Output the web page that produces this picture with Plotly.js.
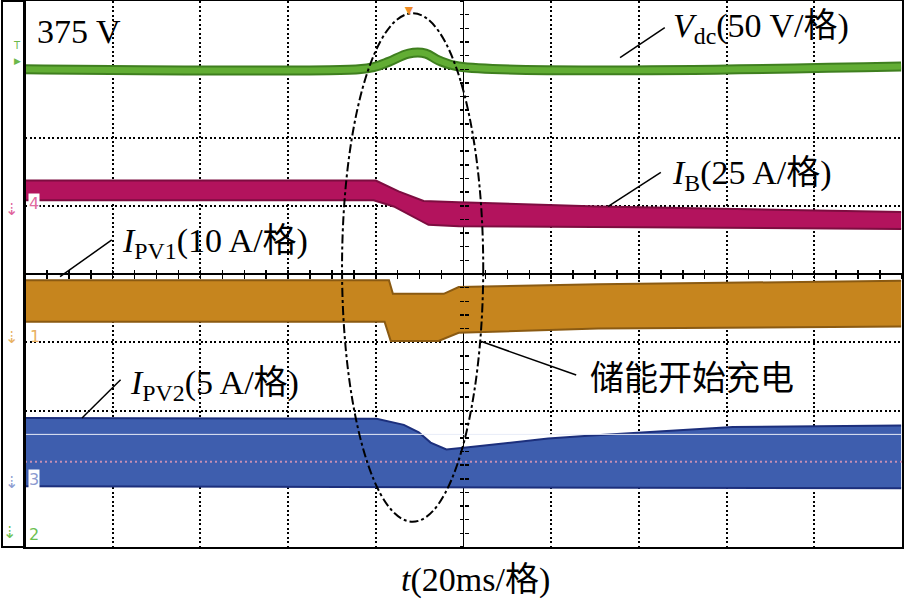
<!DOCTYPE html>
<html>
<head>
<meta charset="utf-8">
<script src="https://cdn.plot.ly/plotly-3.0.1.min.js"></script>
<style>html,body{margin:0;padding:0;background:#fff;overflow:hidden}</style>
</head>
<body>
<div id="scope" style="width:904px;height:600px"></div>
<script>
// 时间轴: ms (20ms/格, 共10格)，纵轴: 格 (-4 ~ 4)
// Vdc 波形中心线
const vdcT = [-100, -23.9, -20.5, -17.0, -12.5, -8.6, -5.7, -1.1, 99.8];
const vdcV = [3.00, 3.00, 3.03, 3.11, 3.23, 3.23, 3.13, 3.04, 3.04];

// IB 上下包络
const ibUpT = [-100, -20.0, -14.8, -9.1, -1.1, 30.7, 99.8];
const ibUpV = [1.37, 1.37, 1.21, 1.07, 1.05, 0.99, 0.91];
const ibLoT = [-100, -20.5, -15.9, -8.0, -1.1, 30.7, 99.8];
const ibLoV = [1.08, 1.08, 0.99, 0.72, 0.70, 0.69, 0.66];

// IPV1 上下包络
const pv1UpT = [-100, -17.0, -16.1, -4.5, -1.1, 30.7, 99.8];
const pv1UpV = [-0.09, -0.09, -0.29, -0.29, -0.19, -0.15, -0.10];
const pv1LoT = [-100, -18.0, -16.6, -5.7, -1.1, 30.7, 99.8];
const pv1LoV = [-0.70, -0.70, -0.98, -0.98, -0.86, -0.80, -0.77];

// IPV2 上下包络
const pv2UpT = [-100, -19.8, -13.6, -10.2, -7.5, -3.9, 1.1, 8.0, 19.3, 28.4, 44.3, 61.4, 99.8];
const pv2UpV = [-2.11, -2.12, -2.21, -2.32, -2.47, -2.57, -2.54, -2.49, -2.41, -2.37, -2.31, -2.24, -2.22];
const pv2LoT = [-100, -1.7, 99.8];
const pv2LoV = [-3.11, -3.13, -3.14];

// 屏幕上的参考线
const refT = [-100, 100];
const whiteRefV = [-2.35, -2.35];
const pinkRefV = [-2.75, -2.75];

const serif = "Liberation Serif, 'Noto Sans CJK SC', serif";
const cjk = "'Noto Sans CJK SC', sans-serif";

function band(upT, upV, loT, loV, fill, edge) {
  return [
    { x: upT, y: upV, type: "scatter", mode: "lines", line: { color: edge, width: 2 }, hoverinfo: "skip" },
    { x: loT, y: loV, type: "scatter", mode: "lines", line: { color: edge, width: 2 },
      fill: "tonexty", fillcolor: fill, hoverinfo: "skip" },
  ];
}

const traces = [
  ...band(ibUpT, ibUpV, ibLoT, ibLoV, "#b3135d", "#7d0d40"),
  ...band(pv1UpT, pv1UpV, pv1LoT, pv1LoV, "#c6851e", "#8a5a12"),
  ...band(pv2UpT, pv2UpV, pv2LoT, pv2LoV, "#3e5eae", "#1c2f7c"),
  { x: vdcT, y: vdcV, type: "scatter", mode: "lines", line: { color: "#3f7f1f", width: 10, shape: "spline" }, hoverinfo: "skip" },
  { x: vdcT, y: vdcV, type: "scatter", mode: "lines", line: { color: "#62ad34", width: 6, shape: "spline" }, hoverinfo: "skip" },
  { x: refT, y: whiteRefV, type: "scatter", mode: "lines", line: { color: "#e8ecf8", width: 1 },
    xaxis: "x2", yaxis: "y2", hoverinfo: "skip" },
  { x: refT, y: pinkRefV, type: "scatter", mode: "lines", line: { color: "#c58fb5", width: 2, dash: "2px,3px" },
    xaxis: "x3", yaxis: "y3", hoverinfo: "skip" },
];

const tickAx = (side, dir, isX) => ({
  overlaying: isX ? "x" : "y", anchor: "free", position: 0.5, side: side,
  range: isX ? [-100, 100] : [-4, 4], dtick: isX ? 5 : 0.2, tick0: 0,
  ticks: dir, ticklen: 4, tickwidth: 1.5, tickcolor: "#000",
  showticklabels: false, showgrid: false, zeroline: false, showline: false, fixedrange: true,
});

function lead(x0, y0, x1, y1) {
  return { type: "line", xref: "x", yref: "y", x0: x0, y0: y0, x1: x1, y1: y1, line: { color: "#000", width: 1.5 } };
}

function label(x, y, text, font) {
  return { x: x, y: y, xref: "x", yref: "y", text: text, showarrow: false, xanchor: "left", yanchor: "middle",
    font: { family: font || serif, size: 34, color: "#000" } };
}

function side(px, py, text, color, size, bg) {
  return { x: (px - 25) / 877, y: (547 - py) / 546, xref: "paper", yref: "paper", text: text, showarrow: false,
    xanchor: "left", yanchor: "middle", font: { family: "DejaVu Sans, sans-serif", size: size, color: color },
    bgcolor: bg || "rgba(0,0,0,0)", borderpad: 0 };
}

const layout = {
  width: 904, height: 600,
  margin: { l: 25, r: 2, t: 1, b: 53 },
  paper_bgcolor: "#fff", plot_bgcolor: "#fff",
  showlegend: false,
  xaxis: {
    range: [-100, 100], dtick: 20, tick0: 0, showticklabels: false, ticks: "",
    showgrid: true, gridcolor: "#000", gridwidth: 2, griddash: "2px,2.5px",
    zeroline: true, zerolinecolor: "#000", zerolinewidth: 1.5,
    showline: true, mirror: true, linecolor: "#000", linewidth: 2, fixedrange: true,
  },
  yaxis: {
    range: [-4, 4], dtick: 1, tick0: 0, showticklabels: false, ticks: "",
    showgrid: true, gridcolor: "#000", gridwidth: 2, griddash: "2px,2.5px",
    zeroline: true, zerolinecolor: "#000", zerolinewidth: 1.5,
    showline: true, mirror: true, linecolor: "#000", linewidth: 2, fixedrange: true,
  },
  xaxis2: tickAx("bottom", "outside", true),
  xaxis3: tickAx("bottom", "inside", true),
  yaxis2: tickAx("left", "outside", false),
  yaxis3: tickAx("left", "inside", false),
  shapes: [
    // 左侧通道栏外框
    { type: "rect", xref: "paper", yref: "paper", x0: -23 / 877, x1: 0, y0: 0, y1: 1, line: { color: "#000", width: 2 } },
    // 点划线椭圆
    { type: "circle", xref: "x", yref: "y", x0: -27.7, x1: 4.5, y0: 3.82, y1: -3.63,
      line: { color: "#000", width: 2, dash: "dashdot" } },
    lead(35.7, 3.17, 45.9, 3.61),
    lead(33.0, 0.99, 45.0, 1.49),
    lead(-92.0, -0.04, -80.2, 0.50),
    lead(-87.0, -2.11, -78.2, -1.55),
    lead(4.1, -0.99, 25.7, -1.48),
  ],
  annotations: [
    label(-97.7, 3.55, "375 V"),
    label(47.3, 3.6, "<i>V</i><sub>dc</sub>(50 V/格)"),
    label(47.0, 1.45, "<i>I</i><sub>B</sub>(25 A/格)"),
    label(-78.4, 0.45, "<i>I</i><sub>PV1</sub>(10 A/格)"),
    label(-76.6, -1.62, "<i>I</i><sub>PV2</sub>(5 A/格)"),
    label(28.4, -1.48, "储能开始充电", cjk),
    { x: 0.514, y: -0.06, xref: "paper", yref: "paper", text: "<i>t</i>(20ms/格)", showarrow: false,
      xanchor: "center", yanchor: "middle", font: { family: serif, size: 34, color: "#000" } },
    // 触发标记
    { x: -12.5, y: 0.985, xref: "x", yref: "paper", text: "▼", showarrow: false, yanchor: "middle",
      font: { size: 14, color: "#f08a24" } },
    // 通道标记
    side(12, 45, "T", "#6cb84a", 10),
    side(13, 61, "▶", "#6cb84a", 9),
    side(4, 210, "⇣", "#e0609a", 16),
    side(28, 203, "4", "#e06aa0", 16, "#fff"),
    side(4, 337, "⇣", "#e8b060", 16),
    side(29, 336, "1", "#e8b060", 16),
    side(4, 482, "⇣", "#8a9ad0", 16),
    side(28, 479, "3", "#8a9ad0", 16, "#fff"),
    side(2, 532, "⇣", "#6cc050", 16),
    side(28, 534, "2", "#6cc050", 16),
  ],
};

Plotly.newPlot("scope", traces, layout, { staticPlot: true });
</script>
</body>
</html>
